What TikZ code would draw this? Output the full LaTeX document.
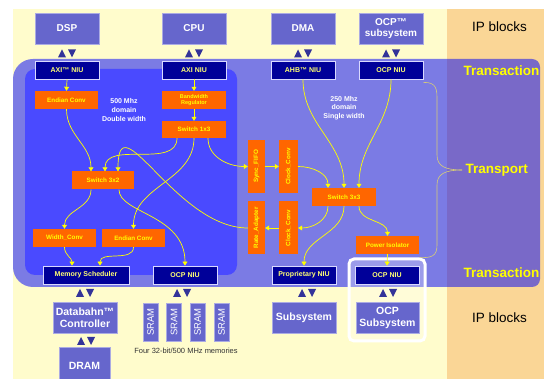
\documentclass[tikz,border=0pt]{standalone}
\usepackage{fontspec}
\setmainfont{Liberation Sans}
\usepackage{graphicx}
\usetikzlibrary{arrows.meta}
\definecolor{creme}{RGB}{255,252,204}
\definecolor{peche}{RGB}{250,214,150}
\definecolor{bleuclair}{RGB}{123,123,228}
\definecolor{violetzone}{RGB}{121,105,200}
\definecolor{bleufonce}{RGB}{74,74,255}
\definecolor{ipbleu}{RGB}{102,102,204}
\definecolor{marine}{RGB}{0,0,153}
\definecolor{orangebox}{RGB}{255,102,0}
\definecolor{jaune}{RGB}{255,255,0}
\definecolor{tribleu}{RGB}{51,51,153}
\definecolor{accolade}{RGB}{214,204,120}
\begin{document}
\begin{tikzpicture}[
    x=1pt, y=1pt,   % une unité = un pixel
    % Blocs IP (gris-bleu, texte blanc)
    ipbox/.style={fill=ipbleu, draw=ipbleu!55!white, line width=0.6pt, text=white,
        font=\bfseries\fontsize{10}{11.5}\selectfont, align=center,
        minimum width=64pt, minimum height=31pt, inner sep=0pt},
    niu/.style={fill=marine, draw=white!85!blue, line width=0.8pt, text=jaune!55!white,
        font=\bfseries\fontsize{7}{8}\selectfont, minimum width=64pt, minimum height=18pt, inner sep=0pt},
    conv/.style={fill=orangebox, text=jaune, font=\bfseries\fontsize{6.3}{7}\selectfont,
        align=center, minimum width=63pt, minimum height=18pt, inner sep=0pt},
    vconv/.style={conv, minimum width=18pt, minimum height=53pt},
    sram/.style={fill=ipbleu, draw=ipbleu!55!white, line width=0.6pt, text=white,
        font=\fontsize{9.5}{10}\selectfont, minimum width=15pt, minimum height=38pt, inner sep=0pt},
    niveau/.style={font=\bfseries\fontsize{13.5}{15}\selectfont, text=jaune},
    lien/.style={draw=jaune, line width=0.7pt, -{Triangle[width=5pt,length=4pt]}},
    updn/.pic={\fill[tribleu] (-9,-4) -- (-1,-4) -- (-5,4) -- cycle;
               \fill[tribleu] (1,4) -- (9,4) -- (5,-4) -- cycle;}
]
\useasboundingbox (0,0) rectangle (544,-379);
% Fonds
\fill[white] (0,0) rectangle (544,-379);
\fill[creme] (13,-9) rectangle (447,-379);
\fill[peche] (447,-9) rectangle (544,-379);
\begin{scope}
  \clip (0,0) rectangle (447,-379);
  \fill[bleuclair, rounded corners=20pt] (13,-59) rectangle (480,-287);
\end{scope}
\begin{scope}
  \clip (447,0) rectangle (544,-379);
  \fill[violetzone, rounded corners=8pt] (400,-59) rectangle (540,-287);
\end{scope}
\fill[bleufonce, rounded corners=10pt] (25,-69) rectangle (237,-275);
\draw[white, line width=3pt, fill=white, fill opacity=0.25, rounded corners=5pt] (349,-259) rectangle (425,-341);

% Blocs IP du haut
\node[ipbox] (dsp) at (67,-28.5) {DSP};
\node[ipbox] (cpu) at (194,-28.5) {CPU};
\node[ipbox] (dma) at (303,-28.5) {DMA};
\node[ipbox] (ocpsub) at (391,-28.5) {OCP™\\subsystem};
\pic at (67,-53.5) {updn};
\pic at (194,-53.5) {updn};
\pic at (303,-53.5) {updn};
\pic at (391,-53.5) {updn};

% NIU
\node[niu] (axiA) at (67,-70) {AXI™ NIU};
\node[niu] (axiB) at (194,-70) {AXI NIU};
\node[niu] (ahb) at (303,-70) {AHB™ NIU};
\node[niu] (ocpA) at (391,-70) {OCP NIU};
\node[niu, minimum width=86pt] (memsch) at (86,-275) {Memory Scheduler};
\node[niu] (ocpB) at (185,-275) {OCP NIU};
\node[niu] (prop) at (304,-275) {Proprietary NIU};
\node[niu] (ocpC) at (387,-275) {OCP NIU};

% Convertisseurs et switches
\node[conv] (endA) at (66.5,-100) {Endian Conv};
\node[conv, minimum width=64pt, font=\bfseries\fontsize{5.5}{6.5}\selectfont] (bwreg) at (194,-100) {Bandwidth\\Regulator};
\node[conv, minimum width=64pt, minimum height=17pt] (sw13) at (194,-129.5) {Switch 1x3};
\node[conv, minimum width=62pt] (sw32) at (103,-180.5) {Switch 3x2};
\node[conv] (widthc) at (64.5,-238) {Width\_Conv};
\node[conv] (endB) at (133.5,-238) {Endian Conv};
\node[vconv, minimum width=17pt] (sync) at (256.5,-166.5) {\rotatebox{90}{Sync\_FIFO}};
\node[vconv, minimum width=17pt] (rate) at (256.5,-228) {\rotatebox{90}{Rate\_Adapter}};
\node[vconv, minimum width=19pt] (clkA) at (288.5,-166.5) {\rotatebox{90}{Clock\_Conv}};
\node[vconv, minimum width=19pt] (clkB) at (288.5,-228) {\rotatebox{90}{Clock\_Conv}};
\node[conv, minimum width=64pt] (sw33) at (344,-197) {Switch 3x3};
\node[conv] (pwr) at (387.5,-245) {Power Isolator};

% Blocs IP du bas
\node[ipbox, font=\bfseries\fontsize{10.5}{12}\selectfont] (databahn) at (85,-317.5) {Databahn™\\Controller};
\node[ipbox, font=\bfseries\fontsize{10.5}{12}\selectfont, minimum width=51pt, minimum height=38pt] (dram) at (84.5,-366) {DRAM};
\node[ipbox, font=\bfseries\fontsize{10.5}{12}\selectfont] (subsys) at (304,-317.5) {Subsystem};
\node[ipbox, font=\bfseries\fontsize{10.5}{12}\selectfont, minimum width=63pt] (ocpsubB) at (387.5,-317.5) {OCP\\Subsystem};
\node[sram] (sramA) at (150.5,-322) {\rotatebox{90}{SRAM}};
\node[sram] (sramB) at (174,-322) {\rotatebox{90}{SRAM}};
\node[sram] (sramC) at (197.5,-322) {\rotatebox{90}{SRAM}};
\node[sram] (sramD) at (221.5,-322) {\rotatebox{90}{SRAM}};
\node[text=black!80, font=\fontsize{7.5}{9}\selectfont] (memlbl) at (186,-351) {Four 32-bit/500 MHz memories};
\pic at (85,-293) {updn};
\pic at (182,-293) {updn};
\pic at (307,-293) {updn};
\pic at (388,-293) {updn};
\pic at (86,-341) {updn};

% Domaines d'horloge
\node[text=white, align=center, font=\bfseries\fontsize{7}{9}\selectfont] (dom500) at (124,-110) {500 Mhz\\domain\\Double width};
\node[text=white, align=center, font=\bfseries\fontsize{7}{8.7}\selectfont] (dom250) at (344,-108) {250 Mhz\\domain\\Single width};

% Niveaux à droite
\node[font=\fontsize{13.5}{15}\selectfont] (ipTop) at (499.5,-27) {IP blocks};
\node[font=\fontsize{13.5}{15}\selectfont] (ipBot) at (499.5,-318) {IP blocks};
\node[niveau] (transTop) at (501.5,-71) {Transaction};
\node[niveau] (transBot) at (501.5,-273) {Transaction};
\node[niveau, anchor=west] (transport) at (462,-170) {Transport};

% Accolade
\draw[accolade, line width=0.6pt] ([yshift=-3pt]ocpA.south east) .. controls (437,-82) and (437,-90) .. (437,-100)
    -- (437,-155) .. controls (437,-166) and (445,-170) .. (transport.west);
\draw[accolade, line width=0.6pt] (transport.west) .. controls (445,-170) and (437,-174) .. (437,-185)
    -- (437,-245) .. controls (437,-256) and (432,-258) .. ([yshift=8pt]ocpC.north east);

% Liaisons
\draw[lien] (axiA.south) -- (endA.north);
\draw[lien] (axiB.south) -- (bwreg.north);
\draw[lien] (bwreg.south) -- (sw13.north);
\draw[lien] (endA.south) to[out=270, in=90] ([xshift=-12pt]sw32.north);
\draw[lien] ([xshift=-17pt]sw13.south) to[out=270, in=90] ([xshift=2pt]sw32.north);
\draw[lien] (rate.west) to[out=180, in=90, looseness=1.3] ([xshift=15pt]sw32.north);
\draw[lien] (sw13.south) to[out=270, in=90] (endB.north);
\draw[lien] ([xshift=14pt]sw13.south) to[out=270, in=180] (sync.west);
\draw[lien] ([xshift=-12pt]sw32.south) to[out=270, in=90] (widthc.north);
\draw[lien] ([xshift=16pt]sw32.south) to[out=270, in=90, out looseness=0.6, in looseness=1.3] (ocpB.north);
\draw[lien] (widthc.south) to[out=270, in=90] ([xshift=-14pt]memsch.north);
\draw[lien] (endB.south) to[out=270, in=90] ([xshift=14pt]memsch.north);
\draw[lien] (sync.east) -- (clkA.west);
\draw[lien] (clkA.east) to[out=0, in=90] ([xshift=-16pt]sw33.north);
\draw[lien] (ahb.south) to[out=270, in=90] (sw33.north);
\draw[lien] (ocpA.south) to[out=270, in=90] ([xshift=15pt]sw33.north);
\draw[lien] ([xshift=-16pt]sw33.south) to[out=270, in=0] (clkB.east);
\draw[lien] (clkB.west) -- (rate.east);
\draw[lien] (sw33.south) to[out=270, in=90] (prop.north);
\draw[lien] ([xshift=15pt]sw33.south) to[out=270, in=90] (pwr.north);
\draw[lien] (pwr.south) -- (ocpC.north);
\end{tikzpicture}
\end{document}
